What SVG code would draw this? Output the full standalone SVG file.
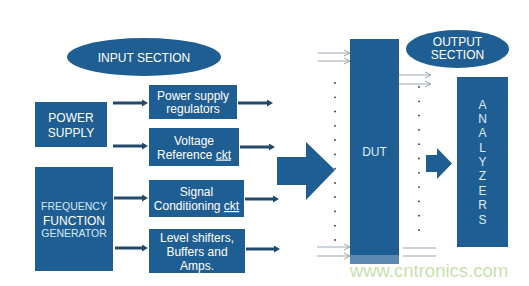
<svg xmlns="http://www.w3.org/2000/svg" width="529" height="286" viewBox="0 0 529 286">
<style>
.box{fill:#1f5e92}
.t{font-family:"Liberation Sans",Arial,sans-serif;font-size:12px;fill:#ffffff;text-anchor:middle}
.ts{font-size:10.5px;fill:#d4e8f8}
.lt{fill:#dcecf8}
.ar{stroke:#22496c;stroke-width:3;fill:none}
.thin{stroke:#9aa7b3;stroke-width:1;fill:none}
.dot{fill:#333}
</style>
<defs>
<marker id="ah" markerWidth="6" markerHeight="7" refX="3" refY="3.5" orient="auto" markerUnits="userSpaceOnUse" viewBox="0 0 6 7">
<path d="M0,0 L6,3.5 L0,7 Z" fill="#22496c"/>
</marker>
<marker id="oh" markerWidth="8" markerHeight="8" refX="7" refY="4" orient="auto" markerUnits="userSpaceOnUse" viewBox="0 0 8 8">
<path d="M1,1 L7,4 L1,7" fill="none" stroke="#9aa7b3" stroke-width="1"/>
</marker>
<g id="dots">
<circle cx="0" cy="0" r="0.9"/>
</g>
</defs>
<rect width="529" height="286" fill="#ffffff"/>

<g id="input-section">
<ellipse cx="144" cy="57" rx="77" ry="19" class="box"/>
<text x="144" y="61.5" class="t">INPUT SECTION</text>
</g>

<g id="power-supply">
<rect x="35" y="102" width="72" height="45" class="box"/>
<text x="71" y="121.5" class="t">POWER</text>
<text x="71" y="136.5" class="t">SUPPLY</text>
</g>

<g id="freq-gen">
<rect x="35" y="167" width="78" height="104" class="box"/>
<text x="74" y="210" class="t ts">FREQUENCY</text>
<text x="74" y="224.5" class="t">FUNCTION</text>
<text x="74" y="237" class="t ts">GENERATOR</text>
</g>

<g id="ps-regulators">
<rect x="149" y="85" width="88" height="34" class="box"/>
<text x="193" y="100" class="t">Power supply</text>
<text x="193" y="113" class="t">regulators</text>
</g>

<g id="voltage-ref">
<rect x="149" y="128" width="90" height="38" class="box"/>
<text x="194" y="145" class="t">Voltage</text>
<text x="194" y="158.5" class="t">Reference <tspan style="text-decoration:underline dotted">ckt</tspan></text>
</g>

<g id="signal-cond">
<rect x="149" y="180" width="95" height="37" class="box"/>
<text x="196.5" y="196" class="t">Signal</text>
<text x="196.5" y="210" class="t">Conditioning <tspan style="text-decoration:underline dotted">ckt</tspan></text>
</g>

<g id="level-shifters">
<rect x="149" y="229" width="96" height="44" class="box"/>
<text x="197" y="242" class="t">Level shifters,</text>
<text x="197" y="255.5" class="t">Buffers and</text>
<text x="197" y="269.5" class="t">Amps.</text>
</g>

<g id="dut">
<rect x="350" y="39" width="49" height="225" class="box"/>
<rect x="350" y="255" width="49" height="9" fill="#5a89b2"/>
<text x="374.5" y="156" class="t lt">DUT</text>
</g>

<g id="output-section">
<ellipse cx="457.5" cy="49" rx="51.5" ry="19" class="box"/>
<text x="457.5" y="45.5" class="t">OUTPUT</text>
<text x="457.5" y="59" class="t">SECTION</text>
</g>

<g id="analyzers">
<rect x="457" y="77" width="51" height="170" class="box"/>
<g class="t lt" style="font-size:12px">
<text x="482.5" y="108.5">A</text>
<text x="482.5" y="122.5">N</text>
<text x="482.5" y="137">A</text>
<text x="482.5" y="151.5">L</text>
<text x="482.5" y="166">Y</text>
<text x="482.5" y="180">Z</text>
<text x="482.5" y="194.5">E</text>
<text x="482.5" y="209">R</text>
<text x="482.5" y="223.5">S</text>
</g>
</g>

<g id="connectors">
<line x1="113" y1="103" x2="145" y2="103" class="ar" marker-end="url(#ah)"/>
<line x1="113" y1="146" x2="145" y2="146" class="ar" marker-end="url(#ah)"/>
<line x1="114" y1="198" x2="145" y2="198" class="ar" marker-end="url(#ah)"/>
<line x1="115" y1="248" x2="145" y2="248" class="ar" marker-end="url(#ah)"/>
<line x1="238" y1="103" x2="270" y2="103" class="ar" marker-end="url(#ah)"/>
<line x1="240" y1="147" x2="272" y2="147" class="ar" marker-end="url(#ah)"/>
<line x1="245" y1="199" x2="276" y2="199" class="ar" marker-end="url(#ah)"/>
<line x1="246" y1="249" x2="277" y2="249" class="ar" marker-end="url(#ah)"/>
<path d="M277,157 L306,157 L306,142 L335,170 L306,200 L306,185 L277,185 Z" class="box"/>
<path d="M426,155 L437,155 L437,148 L452,163.5 L437,179 L437,172 L426,172 Z" class="box"/>
<line x1="318" y1="53" x2="350" y2="53" class="thin" marker-end="url(#oh)"/>
<line x1="318" y1="61" x2="350" y2="61" class="thin" marker-end="url(#oh)"/>
<line x1="317" y1="247" x2="350" y2="247" class="thin" marker-end="url(#oh)"/>
<line x1="317" y1="256" x2="350" y2="256" class="thin" marker-end="url(#oh)"/>
<line x1="399" y1="75" x2="431" y2="75" class="thin" marker-end="url(#oh)"/>
<line x1="399" y1="84" x2="431" y2="84" class="thin" marker-end="url(#oh)"/>
<line x1="403" y1="248" x2="436" y2="248" class="thin" stroke="#c8ced4"/>
<line x1="403" y1="256" x2="436" y2="256" class="thin" stroke="#c8ced4"/>
<g class="dot">
<use href="#dots" x="335" y="83"/><use href="#dots" x="335" y="97.3"/><use href="#dots" x="335" y="111.5"/><use href="#dots" x="335" y="125.8"/><use href="#dots" x="335" y="140"/><use href="#dots" x="335" y="154.4"/><use href="#dots" x="335" y="168.6"/><use href="#dots" x="335" y="183"/><use href="#dots" x="335" y="197"/><use href="#dots" x="335" y="211.4"/><use href="#dots" x="335" y="225.7"/><use href="#dots" x="335" y="240"/>
<use href="#dots" x="419" y="87"/><use href="#dots" x="419" y="101.3"/><use href="#dots" x="419" y="115.6"/><use href="#dots" x="419" y="129.9"/><use href="#dots" x="419" y="144.2"/><use href="#dots" x="419" y="158.5"/><use href="#dots" x="419" y="172.8"/><use href="#dots" x="419" y="187.1"/><use href="#dots" x="419" y="201.4"/><use href="#dots" x="419" y="215.7"/><use href="#dots" x="419" y="230"/>
</g>
</g>

<text x="429" y="277" style="font-family:'Liberation Sans',Arial,sans-serif;font-size:18.5px;fill:#c9dfae;text-anchor:middle">www.cntronics.com</text>
</svg>
